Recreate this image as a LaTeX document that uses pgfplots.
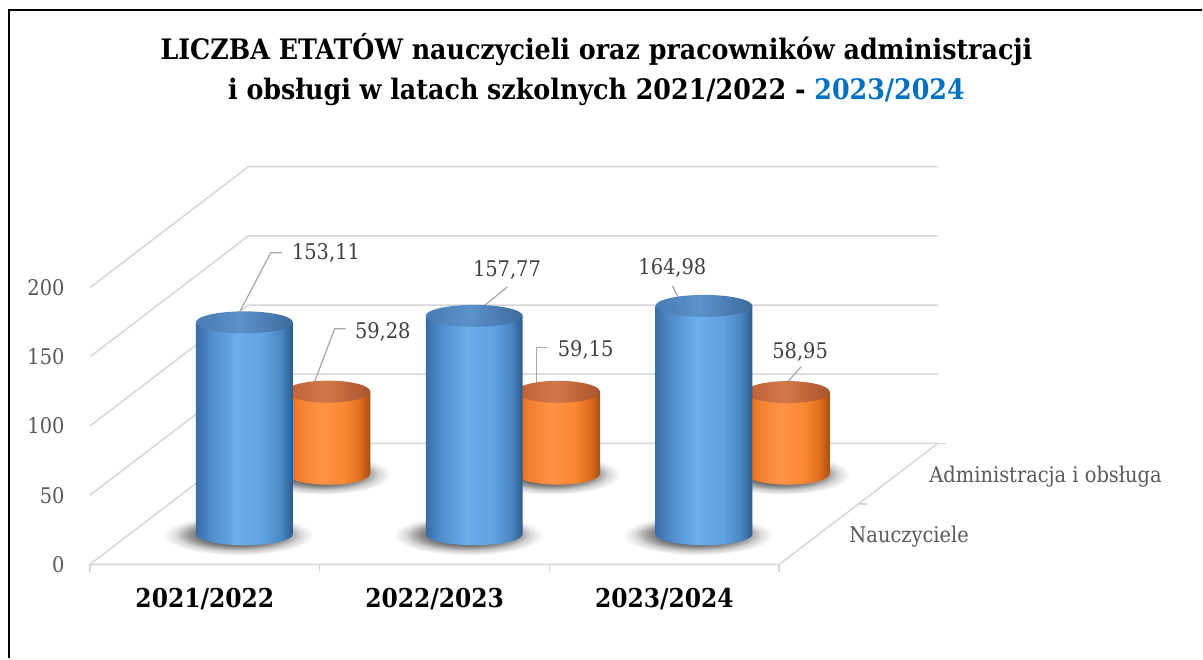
\documentclass[border=0pt]{standalone}
\usepackage{fontspec}
\setmainfont{DejaVu Serif Condensed}
\usepackage{pgfplots}
\usepackage{pgfplotstable}
\usetikzlibrary{fadings}
\pgfplotsset{compat=1.18}

\definecolor{gridc}{HTML}{D6D6D6}
\definecolor{ticktext}{HTML}{595959}
\definecolor{labtext}{HTML}{404040}
\definecolor{leader}{HTML}{A6A6A6}
\definecolor{titleblue}{HTML}{0070C0}
% blue cylinder
\definecolor{bb0}{HTML}{3A6CA6}
\definecolor{bb1}{HTML}{4F8ACA}
\definecolor{bb2}{HTML}{6AAEEA}
\definecolor{bb3}{HTML}{5EA2E2}
\definecolor{bb4}{HTML}{4A86C2}
\definecolor{bb5}{HTML}{2C5A8C}
\definecolor{bc0}{HTML}{4A7CB4}
\definecolor{bc1}{HTML}{5B91CB}
\definecolor{bc2}{HTML}{3E6B9B}
% orange cylinder
\definecolor{ob0}{HTML}{D8641C}
\definecolor{ob1}{HTML}{F27E2E}
\definecolor{ob2}{HTML}{FF9448}
\definecolor{ob3}{HTML}{FA8630}
\definecolor{ob4}{HTML}{DE6C1C}
\definecolor{ob5}{HTML}{A84E12}
\definecolor{oc0}{HTML}{BC6036}
\definecolor{oc1}{HTML}{D27848}
\definecolor{oc2}{HTML}{AA552E}

\pgfdeclarehorizontalshading{bluebody}{100bp}{color(0bp)=(bb0); color(25bp)=(bb0); color(32bp)=(bb1); color(46bp)=(bb2); color(60bp)=(bb3); color(69bp)=(bb4); color(75bp)=(bb5); color(100bp)=(bb5)}
\pgfdeclarehorizontalshading{bluecap}{100bp}{color(0bp)=(bc0); color(25bp)=(bc0); color(48bp)=(bc1); color(75bp)=(bc2); color(100bp)=(bc2)}
\pgfdeclarehorizontalshading{orangebody}{100bp}{color(0bp)=(ob0); color(25bp)=(ob0); color(32bp)=(ob1); color(46bp)=(ob2); color(60bp)=(ob3); color(69bp)=(ob4); color(75bp)=(ob5); color(100bp)=(ob5)}
\pgfdeclarehorizontalshading{orangecap}{100bp}{color(0bp)=(oc0); color(25bp)=(oc0); color(48bp)=(oc1); color(75bp)=(oc2); color(100bp)=(oc2)}
\tikzfading[name=shadowfade, inner color=transparent!0, outer color=transparent!100]

% cylinder drawn at its top centre; height from the data value (y unit = 0.6925pt)
\newcommand\cylinder[4]{% radius, cap radius, body shading, cap shading
  \pgfmathsetmacro\cylh{\pgfplotspointmeta*0.6925}%
  \fill[draw=none,black!85,path fading=shadowfade] (-3pt,-\cylh pt-0.5pt) ellipse [x radius=#1+13pt,y radius=#2+4.5pt];
  \fill[draw=none,black!80,path fading=shadowfade] (-3pt,-\cylh pt) ellipse [x radius=#1+7pt,y radius=#2+2.5pt];
  \shade[draw=none,shading=#3] (-#1,0pt) -- (-#1,-\cylh pt) arc[start angle=180,end angle=360,x radius=#1,y radius=#2] -- (#1,0pt) -- cycle;
  \shade[draw=none,shading=#4] (0pt,0pt) ellipse [x radius=#1,y radius=#2];
}

\pgfplotstableread{
x v
0 153.11
1 157.77
2 164.98
}\nauczyciele
\pgfplotstableread{
x v
0 59.28
1 59.15
2 58.95
}\administracja

\begin{document}
\begin{tikzpicture}
\begin{axis}[
  x=115pt, y=0.6925pt,
  xmin=-0.3913, xmax=4.8391, ymin=-67.87, ymax=407.94,
  axis line style={draw=none},
  axis background/.style={fill=white},
  clip=false,
  major tick length=0pt,
  tick style={draw=none},
  ytick={0,50,100,150,200},
  yticklabels={0,50,100,150,200},
  yticklabel style={anchor=east, inner sep=0pt, xshift=32.5pt, text=ticktext, font=\fontsize{10.8}{13}\selectfont},
  xtick={0.5,1.5,2.5},
  xticklabels={2021/2022,2022/2023,2023/2024},
  xticklabel style={anchor=base, inner sep=0pt, yshift=25.5pt, text=black, font=\bfseries\fontsize{13}{15}\selectfont},
  /pgf/number format/assume math mode=true,
]
% walls and floor
\addplot[gridc, line width=0.75pt, mark=none] coordinates {(0,0) (0.69,87.5) (3.69,87.5)};
\addplot[gridc, line width=0.75pt, mark=none] coordinates {(0,50) (0.69,137.5) (3.69,137.5)};
\addplot[gridc, line width=0.75pt, mark=none] coordinates {(0,100) (0.69,187.5) (3.69,187.5)};
\addplot[gridc, line width=0.75pt, mark=none] coordinates {(0,150) (0.69,237.5) (3.69,237.5)};
\addplot[gridc, line width=0.75pt, mark=none] coordinates {(0,200) (0.69,287.5) (3.69,287.5)};
\addplot[gridc, line width=0.75pt, mark=none] coordinates {(0,0) (3,0) (3.69,87.5)};
\addplot[gridc, line width=0.75pt, mark=none] coordinates {(0,0) (0,-5.5)};
\addplot[gridc, line width=0.75pt, mark=none] coordinates {(1,0) (1,-5.5)};
\addplot[gridc, line width=0.75pt, mark=none] coordinates {(2,0) (2,-5.5)};
\addplot[gridc, line width=0.75pt, mark=none] coordinates {(3,0) (3,-5.5)};
\addplot[gridc, line width=0.75pt, mark=none] coordinates {(3.345,43.75) (3.38,43.75)};
\addplot[gridc, line width=0.75pt, mark=none] coordinates {(3.69,87.5) (3.725,87.5)};

% back row: Administracja i obsluga
\addplot[scatter, only marks, mark=*, mark size=0pt, mark options={draw=none,fill=none},
  point meta=explicit symbolic,
  scatter/@pre marker code/.code={\cylinder{21pt}{5.5pt}{orangebody}{orangecap}},
  scatter/@post marker code/.code={}]
  table[x expr=\thisrow{x}+1.0375, y expr=\thisrow{v}+65.625, meta=v] {\administracja};
% front row: Nauczyciele
\addplot[scatter, only marks, mark=*, mark size=0pt, mark options={draw=none,fill=none},
  point meta=explicit symbolic,
  scatter/@pre marker code/.code={\cylinder{24.25pt}{5.5pt}{bluebody}{bluecap}},
  scatter/@post marker code/.code={}]
  table[x expr=\thisrow{x}+0.6725, y expr=\thisrow{v}+21.875, meta=v] {\nauczyciele};

% leader lines
\addplot[leader, line width=0.6pt, mark=none] coordinates {(0.6,166.1) (0.787,225.3) (0.835,225.3)};
\addplot[leader, line width=0.6pt, mark=none] coordinates {(0.9435,117.0) (1.0652,170.4) (1.113,170.4)};
\addplot[leader, line width=0.6pt, mark=none] coordinates {(1.6,171.1) (1.817,200.7)};
\addplot[leader, line width=0.6pt, mark=none] coordinates {(1.9435,115.5) (1.9435,156.7) (1.991,156.7)};
\addplot[leader, line width=0.6pt, mark=none] coordinates {(2.604,178.3) (2.535,201.4)};
\addplot[leader, line width=0.6pt, mark=none] coordinates {(2.948,115.5) (3.096,143.0)};

% data labels
\begin{scope}[every node/.style={inner sep=0pt, text=labtext, font=\fontsize{10.8}{13}\selectfont}]
\node[anchor=west] at (axis cs:0.878,225.3) {153,11};
\node[anchor=west] at (axis cs:1.152,168.2) {59,28};
\node[anchor=center] at (axis cs:1.815,213.0) {157,77};
\node[anchor=west] at (axis cs:2.035,155.2) {59,15};
\node[anchor=center] at (axis cs:2.535,214.4) {164,98};
\node[anchor=center] at (axis cs:3.091,153.8) {58,95};
\end{scope}

% series labels on the depth axis
\node[anchor=base west, inner sep=0pt, text=ticktext, font=\fontsize{10.8}{13}\selectfont] at (axis cs:3.652,59.2) {Administracja i obsługa};
\node[anchor=base west, inner sep=0pt, text=ticktext, font=\fontsize{10.8}{13}\selectfont] at (axis cs:3.304,15.9) {Nauczyciele};

% title
\node[anchor=base, inner sep=0pt, font=\bfseries\fontsize{14.1}{17}\selectfont] at (axis cs:2.2043,364.6) {LICZBA ETATÓW nauczycieli oraz pracowników administracji};
\node[anchor=base, inner sep=0pt, font=\bfseries\fontsize{14.1}{17}\selectfont] at (axis cs:2.2043,335.7) {i obsługi w latach szkolnych 2021/2022 - \textcolor{titleblue}{2023/2024}};

% frame
\draw[black, line width=1.2pt] (axis cs:-0.3522,-67.87) -- (axis cs:-0.3522,400.7) -- (axis cs:4.8391,400.7);
\end{axis}
\end{tikzpicture}
\end{document}
